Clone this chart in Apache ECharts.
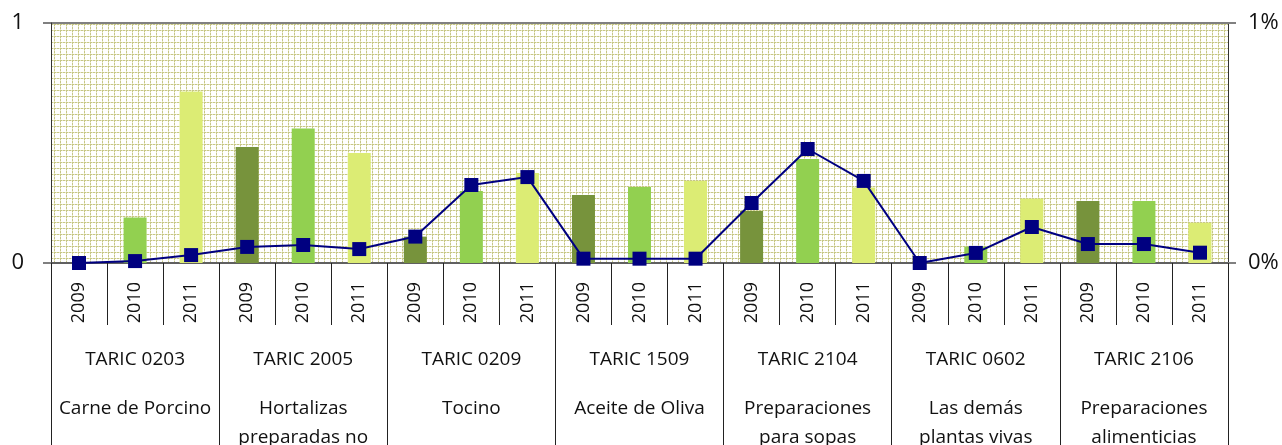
<!DOCTYPE html>
<html>
<head>
<meta charset="utf-8">
<script src="https://cdn.jsdelivr.net/npm/echarts@6/dist/echarts.min.js"></script>
<style>
html, body { margin: 0; padding: 0; background: #fff; }
#chart { width: 1282px; height: 445px; }
</style>
</head>
<body>
<div id="chart"></div>
<script>
// data
const years = ['2009', '2010', '2011', '2009', '2010', '2011', '2009', '2010', '2011',
    '2009', '2010', '2011', '2009', '2010', '2011', '2009', '2010', '2011', '2009', '2010', '2011']
const groupCodes = ['TARIC 0203', 'TARIC 2005', 'TARIC 0209', 'TARIC 1509', 'TARIC 2104', 'TARIC 0602', 'TARIC 2106']
const groupNames = ['Carne de Porcino', 'Hortalizas\npreparadas no', 'Tocino', 'Aceite de Oliva',
    'Preparaciones\npara sopas', 'Las demás\nplantas vivas', 'Preparaciones\nalimenticias']
const barValues = [0, 0.19, 0.715, 0.483, 0.56, 0.458, 0.11, 0.30, 0.375,
    0.283, 0.317, 0.342, 0.217, 0.433, 0.315, 0, 0.068, 0.268, 0.258, 0.258, 0.167]
const lineValues = [0, 0.008, 0.033, 0.067, 0.075, 0.058, 0.11, 0.325, 0.358,
    0.018, 0.018, 0.018, 0.25, 0.475, 0.342, 0, 0.042, 0.15, 0.079, 0.079, 0.043]
const yearColors = ['#77933C', '#92D050', '#DCEC74']

const FONT = 'Open Sans'

// fine dashed grid used as plot background
function makePattern() {
    const cv = document.createElement('canvas')
    cv.width = 6
    cv.height = 6
    const c = cv.getContext('2d')
    c.fillStyle = '#ffffff'
    c.fillRect(0, 0, 6, 6)
    for (let i = 0; i < 6; i++) {
        c.fillStyle = i % 3 === 2 ? '#e8e8c4' : '#c6c686'
        c.fillRect(0, i, 1, 1)
        c.fillRect(i, 0, 1, 1)
    }
    return cv
}

const chart = echarts.init(document.getElementById('chart'))

const option = {
    animation: false,
    grid: {
        left: 51,
        right: 54,
        top: 23,
        bottom: 182,
        outerBoundsMode: 'none',
        containLabel: false,
        show: true,
        borderWidth: 0,
        backgroundColor: { image: makePattern(), repeat: 'repeat' }
    },
    xAxis: [{
        type: 'category',
        data: years,
        position: 'bottom',
        axisLine: { lineStyle: { color: '#555555', width: 1.5 } },
        axisTick: { show: true, interval: 0, length: 62, lineStyle: { color: '#222' } },
        axisLabel: {
            interval: 0, rotate: 90, margin: 19,
            fontFamily: FONT, fontSize: 18, color: '#111'
        }
    }, {
        type: 'category',
        data: groupCodes,
        position: 'bottom',
        axisLine: { show: false },
        axisTick: { show: true, interval: 0, length: 182, lineStyle: { color: '#222' } },
        axisLabel: {
            interval: 0, margin: 86, lineHeight: 22,
            fontFamily: FONT, fontSize: 19, color: '#111'
        }
    }, {
        type: 'category',
        data: groupNames,
        position: 'bottom',
        axisLine: { show: false },
        axisTick: { show: false },
        axisLabel: {
            interval: 0, margin: 131, lineHeight: 29,
            fontFamily: FONT, fontSize: 19, color: '#111'
        }
    }],
    yAxis: [{
        type: 'value',
        min: 0,
        max: 1,
        interval: 1,
        axisLine: { show: true, lineStyle: { color: '#333', width: 1 } },
        axisTick: { show: true, length: 8, lineStyle: { color: '#808080', width: 2 } },
        splitLine: { show: true, lineStyle: { color: '#808080', width: 2 } },
        axisLabel: { margin: 27, padding: [6, 0, 0, 0], fontFamily: FONT, fontSize: 22, color: '#111' }
    }, {
        type: 'value',
        min: 0,
        max: 1,
        interval: 1,
        axisLine: { show: true, lineStyle: { color: '#333', width: 1 } },
        axisTick: { show: true, length: 8, lineStyle: { color: '#808080', width: 2 } },
        splitLine: { show: false },
        axisLabel: { margin: 20, padding: [6, 0, 0, 0], formatter: '{value}%', fontFamily: FONT, fontSize: 22, color: '#111' }
    }],
    series: [{
        type: 'bar',
        xAxisIndex: 0,
        yAxisIndex: 0,
        barWidth: 23,
        data: barValues,
        itemStyle: {
            color: params => yearColors[params.dataIndex % 3]
        }
    }, {
        type: 'line',
        xAxisIndex: 0,
        yAxisIndex: 1,
        data: lineValues,
        symbol: 'rect',
        symbolSize: 14,
        lineStyle: { color: '#000080', width: 2 },
        itemStyle: { color: '#000080' },
        z: 5
    }]
}

chart.setOption(option)
</script>
</body>
</html>
